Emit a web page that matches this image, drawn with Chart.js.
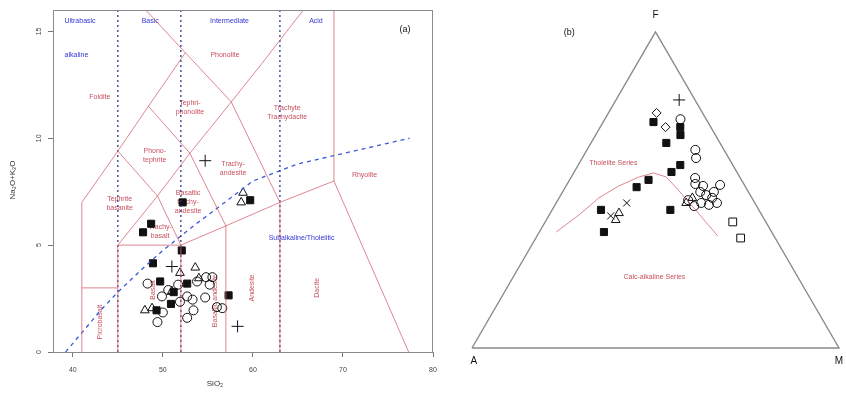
<!DOCTYPE html>
<html>
<head>
<meta charset="utf-8">
<script src="https://cdn.jsdelivr.net/npm/chart.js@4/dist/chart.umd.min.js"></script>
<style>
  html, body { margin: 0; padding: 0; background: #fff; }
  #wrap { position: relative; width: 846px; height: 394px; overflow: hidden; }
  #tas { position: absolute; left: 0; top: 0; }
  #afm { position: absolute; left: 450px; top: 0; }
</style>
</head>
<body>
<div id="wrap">
  <canvas id="tas" width="450" height="394"></canvas>
  <canvas id="afm" width="396" height="394"></canvas>
</div>
<script>
// ---------- (a) TAS diagram: SiO2 vs Na2O+K2O (wt%) ----------
const sio2Ticks = [40, 50, 60, 70, 80];
const alkTicks = [0, 5, 10, 15];

// samples as [SiO2, Na2O+K2O]
const tasSquares = [[48.7, 6.0], [47.8, 5.6], [52.2, 7.0], [52.1, 4.75], [48.9, 4.15], [49.7, 3.3],
  [52.7, 3.2], [51.2, 2.8], [50.9, 2.25], [49.3, 1.95], [59.7, 7.1], [57.3, 2.65]];
const tasCircles = [[48.3, 3.2], [49.9, 2.6], [50.6, 2.9], [52.7, 2.6], [53.8, 3.3], [54.8, 3.5],
  [55.2, 3.15], [54.7, 2.55], [53.3, 2.45], [56.0, 2.1], [50.0, 1.85], [49.4, 1.4], [52.7, 1.6],
  [53.4, 1.95], [51.9, 2.35], [56.6, 2.05], [55.5, 3.5], [51.7, 3.15]];
const tasTriangles = [[51.9, 3.7], [53.6, 3.95], [54.0, 3.45], [48.0, 1.95], [48.8, 2.05],
  [51.0, 2.85], [58.9, 7.45], [58.7, 7.0]];
const tasPlus = [[51.0, 4.0], [54.7, 8.95], [58.3, 1.2]];

// rock-field boundaries (Le Bas et al.), [SiO2, Na2O+K2O]
const tasFieldLines = [
  [[41, 0], [41, 7], [45, 9.4], [48.4, 11.5], [52.5, 14], [48.1, 16]],
  [[41, 3], [45, 3]],
  [[45, 0], [45, 5], [49.4, 7.3], [53, 9.3], [57.6, 11.7], [61, 13.5], [65.6, 16]],
  [[45, 5], [52, 5]],
  [[52, 0], [52, 5], [57, 5.9], [63, 7], [69, 8], [77.3, 0]],
  [[57, 0], [57, 5.9]],
  [[63, 0], [63, 7]],
  [[69, 8], [69, 16]],
  [[52, 5], [49.4, 7.3], [45, 9.4]],
  [[57, 5.9], [53, 9.3], [48.4, 11.5]],
  [[63, 7], [57.6, 11.7], [52.5, 14]]
];
// silica-saturation dividers (ultrabasic / basic / intermediate / acid)
const silicaDividers = [45, 52, 63];
// alkaline / subalkaline divide (Irvine & Baragar)
const alkalineDivide = [[39.2, 0], [40, 0.4], [43.2, 2], [45, 2.8], [48, 4], [50, 4.75], [53.7, 6],
  [55, 6.4], [60, 8], [65, 8.8], [77.4, 10.0]];

const tasLabels = [
  { t: ['Ultrabasic'], x: 40.8, y: 15.47, c: 'blue' },
  { t: ['Basic'], x: 48.6, y: 15.47, c: 'blue' },
  { t: ['Intermediate'], x: 57.4, y: 15.47, c: 'blue' },
  { t: ['Acid'], x: 67.0, y: 15.47, c: 'blue' },
  { t: ['alkaline'], x: 40.4, y: 13.9, c: 'blue' },
  { t: ['Subalkaline/Tholeiitic'], x: 65.4, y: 5.34, c: 'blue' },
  { t: ['Foidite'], x: 43.0, y: 11.95, c: 'red' },
  { t: ['Phonolite'], x: 56.9, y: 13.9, c: 'red' },
  { t: ['Tephri-', 'phonolite'], x: 53.0, y: 11.45, c: 'red' },
  { t: ['Trachyte', 'Trachydacite'], x: 63.8, y: 11.2, c: 'red' },
  { t: ['Phono-', 'tephrite'], x: 49.1, y: 9.2, c: 'red' },
  { t: ['Trachy-', 'andesite'], x: 57.8, y: 8.6, c: 'red' },
  { t: ['Basaltic', 'trachy-', 'andesite'], x: 52.8, y: 7.0, c: 'red' },
  { t: ['Tephrite', 'basanite'], x: 45.2, y: 6.95, c: 'red' },
  { t: ['Trachy-', 'basalt'], x: 49.7, y: 5.65, c: 'red' },
  { t: ['Rhyolite'], x: 72.4, y: 8.3, c: 'red' },
  { t: ['Picrobasalt'], x: 43.0, y: 1.4, c: 'red', rot: true },
  { t: ['Basalt'], x: 48.9, y: 2.9, c: 'red', rot: true },
  { t: ['Basaltic andesite'], x: 55.8, y: 2.4, c: 'red', rot: true },
  { t: ['Andesite'], x: 59.9, y: 3.0, c: 'red', rot: true },
  { t: ['Dacite'], x: 67.1, y: 3.0, c: 'red', rot: true },
  { t: ['(a)'], x: 76.9, y: 15.1, c: 'black', big: true }
];

// ---------- (b) AFM diagram ----------
// samples as [F, A, M] (percent)
const afmSquares = [[71.5, 14.8, 13.7], [69.9, 8.3, 21.8], [67.4, 9.5, 23.1], [64.9, 14.6, 20.5],
  [57.9, 14.3, 27.8], [55.7, 17.8, 26.5], [53.2, 25.3, 21.5], [50.9, 29.7, 19.4],
  [43.7, 43.0, 13.3], [36.7, 45.7, 17.6], [43.7, 24.1, 32.2]];
const afmCircles = [[72.4, 7.0, 20.6], [62.7, 7.8, 29.5], [60.1, 8.9, 31.0], [53.8, 12.3, 33.9],
  [51.9, 13.2, 34.9], [51.6, 6.6, 41.8], [49.4, 13.1, 37.5], [48.4, 12.0, 39.6], [47.5, 10.8, 41.7],
  [45.9, 10.3, 43.8], [45.3, 12.8, 41.9], [45.9, 14.6, 39.5], [44.9, 17.0, 38.1], [46.8, 17.7, 35.5],
  [51.3, 11.4, 37.3], [49.4, 9.4, 41.2]];
const afmDiamonds = [[74.4, 12.5, 13.1], [69.9, 12.3, 17.8]];
const afmTriangles = [[42.7, 38.6, 18.7], [40.5, 40.6, 18.9], [45.9, 18.7, 35.4], [47.5, 16.2, 36.3]];
const afmCrosses = [[45.9, 34.9, 19.2], [41.8, 41.3, 16.9]];
const afmPlus = [[78.5, 4.3, 17.2]];
const afmOpenSquares = [[39.9, 9.0, 51.1], [34.8, 9.4, 55.8]];
// tholeiitic / calc-alkaline divide, [F, A, M]
const afmDivide = [[36.7, 58.7, 4.6], [42.1, 49.8, 8.1], [47.5, 41.7, 10.8], [51.3, 34.3, 14.4],
  [54.1, 27.5, 18.4], [55.4, 22.8, 21.8], [54.1, 20.0, 25.9], [50.0, 18.8, 31.2],
  [45.3, 17.6, 37.1], [40.5, 16.5, 43.0], [35.4, 15.3, 49.3]];
const afmCorners = { A: [0, 100, 0], F: [100, 0, 0], M: [0, 0, 100] };

// ---------- shared styling ----------
const FONT = '"Liberation Sans", Arial, sans-serif';
const FIELD_RED = 'rgba(210, 95, 110, 0.75)';
const TEXT_RED = '#c8505e';
const TEXT_BLUE = '#3535d5';
const INK = '#111';

const xy = pts => pts.map(p => ({ x: p[0], y: p[1] }));
// ternary [F, A, M] -> plane: M to the right, F upward
const tern = pts => pts.map(p => ({ x: p[2] + p[0] / 2, y: p[0] }));

function lineSet(data, color, width, dash, clip) {
  return { type: 'line', data, showLine: true, borderColor: color, borderWidth: width,
    borderDash: dash || [], pointRadius: 0, fill: false, tension: 0, clip: clip === undefined ? undefined : clip };
}
function markerSet(data, style, radius, filled, rot) {
  return { type: 'scatter', data, pointStyle: style, pointRadius: radius, pointRotation: rot || 0,
    pointBorderColor: INK, pointBorderWidth: 1,
    pointBackgroundColor: filled ? INK : 'rgba(0,0,0,0)', clip: false };
}

// ---------- chart (a) ----------
const tasSets = [];
tasFieldLines.forEach(l => tasSets.push(lineSet(xy(l), FIELD_RED, 1)));
silicaDividers.forEach(s => tasSets.push(lineSet(xy([[s, 0], [s, 16]]), '#1c2a80', 1.2, [2, 3])));
tasSets.push(lineSet(xy(alkalineDivide), '#3a5ad8', 1.3, [4, 4]));
tasSets.push(markerSet(xy(tasCircles), 'circle', 4.5, false));
tasSets.push(markerSet(xy(tasTriangles), 'triangle', 5, false));
tasSets.push(markerSet(xy(tasSquares), 'rect', 5, true));
tasSets.push(markerSet(xy(tasPlus), 'cross', 6, false));

const tasDecor = {
  id: 'tasDecor',
  beforeDatasetsDraw(chart) {
    const { ctx, scales: { x, y } } = chart;
    ctx.save();
    tasLabels.forEach(l => {
      const px = x.getPixelForValue(l.x), py = y.getPixelForValue(l.y);
      ctx.fillStyle = l.c === 'blue' ? TEXT_BLUE : (l.c === 'red' ? TEXT_RED : INK);
      ctx.font = (l.big ? 9 : 7) + 'px ' + FONT;
      ctx.textAlign = 'center';
      ctx.textBaseline = 'middle';
      const lh = 9;
      if (l.rot) {
        ctx.save();
        ctx.translate(px, py);
        ctx.rotate(-Math.PI / 2);
        l.t.forEach((s, i) => ctx.fillText(s, 0, (i - (l.t.length - 1) / 2) * lh));
        ctx.restore();
      } else {
        l.t.forEach((s, i) => ctx.fillText(s, px, py + (i - (l.t.length - 1) / 2) * lh));
      }
    });
    ctx.restore();
  },
  afterDraw(chart) {
    const { ctx, chartArea: a, scales: { y } } = chart;
    ctx.save();
    ctx.strokeStyle = '#8a8a8a';
    ctx.lineWidth = 1;
    ctx.strokeRect(a.left + 0.5, a.top + 0.5, a.right - a.left - 1, a.bottom - a.top);
    // y tick labels, parallel to the axis
    ctx.fillStyle = '#444';
    ctx.font = '7px ' + FONT;
    ctx.textAlign = 'center';
    ctx.textBaseline = 'middle';
    alkTicks.forEach(v => {
      ctx.save();
      ctx.translate(39, y.getPixelForValue(v));
      ctx.rotate(-Math.PI / 2);
      ctx.fillText(String(v), 0, 0);
      ctx.restore();
    });
    // axis titles
    ctx.fillStyle = '#333';
    ctx.font = '8px ' + FONT;
    ctx.fillText('SiO\u2082', 215, 384);
    ctx.save();
    ctx.translate(13, 180);
    ctx.rotate(-Math.PI / 2);
    ctx.fillText('Na\u2082O+K\u2082O', 0, 0);
    ctx.restore();
    ctx.restore();
  }
};

new Chart(document.getElementById('tas'), {
  type: 'scatter',
  data: { datasets: tasSets },
  options: {
    responsive: false, animation: false, devicePixelRatio: 1,
    layout: { padding: { left: 0, right: 17, top: 10, bottom: 0 } },
    plugins: { legend: { display: false }, tooltip: { enabled: false } },
    scales: {
      x: {
        type: 'linear', min: 37.8, max: 80,
        afterBuildTicks: s => { s.ticks = sio2Ticks.map(v => ({ value: v })); },
        afterFit: s => { s.height = 42; },
        grid: { drawOnChartArea: false, drawTicks: true, tickLength: 5, color: '#777' },
        border: { color: '#8a8a8a' },
        ticks: { font: { size: 7, family: FONT }, color: '#444', padding: 9, maxRotation: 0 }
      },
      y: {
        type: 'linear', min: 0, max: 16,
        afterBuildTicks: s => { s.ticks = alkTicks.map(v => ({ value: v })); },
        afterFit: s => { s.width = 53; },
        grid: { drawOnChartArea: false, drawTicks: true, tickLength: 5, color: '#777' },
        border: { color: '#8a8a8a' },
        ticks: { display: false }
      }
    }
  },
  plugins: [tasDecor]
});

// ---------- chart (b) ----------
const afmSets = [];
afmSets.push(lineSet(tern([afmCorners.A, afmCorners.F, afmCorners.M, afmCorners.A]), '#8a8a8a', 1.4, [], false));
afmSets.push(lineSet(tern(afmDivide), FIELD_RED, 1, [], false));
afmSets.push(markerSet(tern(afmCircles), 'circle', 4.5, false));
afmSets.push(markerSet(tern(afmDiamonds), 'rectRot', 4.5, false));
afmSets.push(markerSet(tern(afmTriangles), 'triangle', 5, false));
afmSets.push(markerSet(tern(afmCrosses), 'crossRot', 5, false));
afmSets.push(markerSet(tern(afmOpenSquares), 'rect', 5.5, false));
afmSets.push(markerSet(tern(afmSquares), 'rect', 5, true));
afmSets.push(markerSet(tern(afmPlus), 'cross', 6, false));

const afmLabels = [
  { t: 'F', x: 50, y: 105.4, size: 10, c: INK },
  { t: 'A', x: 0.5, y: -4.1, size: 10, c: INK },
  { t: 'M', x: 100, y: -4.1, size: 10, c: INK },
  { t: '(b)', x: 26.5, y: 99.7, size: 9, c: INK },
  { t: 'Tholeiite Series', x: 38.5, y: 58.5, size: 7, c: TEXT_RED },
  { t: 'Calc-alkaline Series', x: 49.7, y: 22.5, size: 7, c: TEXT_RED }
];

const afmDecor = {
  id: 'afmDecor',
  beforeDatasetsDraw(chart) {
    const { ctx, scales: { x, y } } = chart;
    ctx.save();
    ctx.textAlign = 'center';
    ctx.textBaseline = 'middle';
    afmLabels.forEach(l => {
      ctx.fillStyle = l.c;
      ctx.font = l.size + 'px ' + FONT;
      ctx.fillText(l.t, x.getPixelForValue(l.x), y.getPixelForValue(l.y));
    });
    ctx.restore();
  }
};

new Chart(document.getElementById('afm'), {
  type: 'scatter',
  data: { datasets: afmSets },
  options: {
    responsive: false, animation: false, devicePixelRatio: 1,
    layout: { padding: { left: 22, right: 4, top: 32, bottom: 46 } },
    plugins: { legend: { display: false }, tooltip: { enabled: false } },
    scales: {
      x: { type: 'linear', min: 0, max: 100, display: false },
      y: { type: 'linear', min: 0, max: 100, display: false }
    }
  },
  plugins: [afmDecor]
});
</script>
</body>
</html>
